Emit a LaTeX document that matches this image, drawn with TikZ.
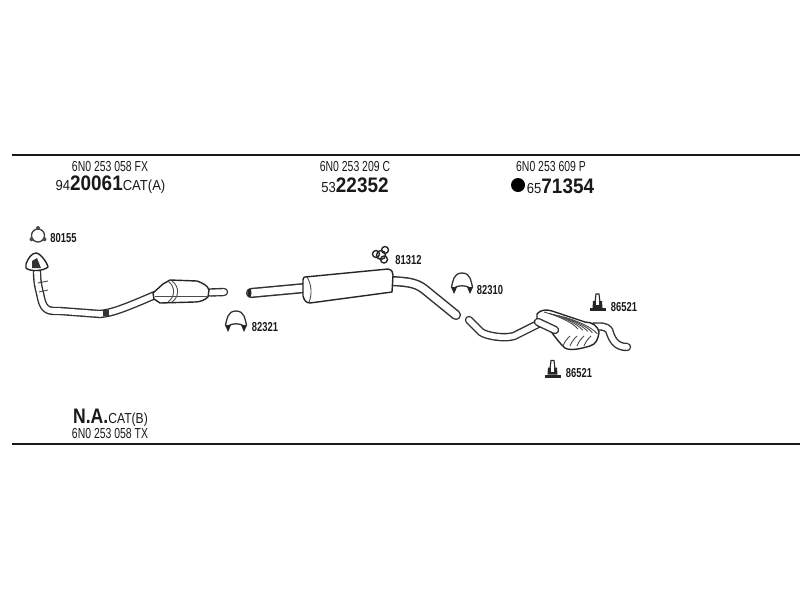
\documentclass[tikz,border=0pt]{standalone}
\usepackage{fontspec}
\setmainfont{Liberation Sans}
\newcommand{\partfont}{\fontsize{14.5}{14.5}\selectfont}
\newcommand{\bigfont}{\fontsize{21}{21}\selectfont}
\newcommand{\numfont}{\fontsize{13}{13}\selectfont\bfseries}
\tikzset{
    railline/.style={line width=1.6pt, black!90},
    partno/.style={inner sep=0pt, xscale=.72, text=black!90, font=\partfont},
    ordno/.style={inner sep=0pt, xscale=.9, text=black!90},
    smallno/.style={inner sep=0pt, xscale=.72, text=black!90, font=\numfont},
    tube/.style={line width=1.4pt, draw=black!80, double=white, double distance=5.6pt, line cap=round, line join=round},
    wide tube/.style={line width=1.5pt, draw=black!80, double=white, double distance=7.2pt, line cap=round, line join=round},
    shell/.style={draw=black!85, fill=white, line width=1.4pt, line join=round},
    rib/.style={draw=black!70, line width=.9pt},
    pics/uclamp/.style={code={
        \draw[black!80, line width=1.3pt, fill=white] (-7,7) -- (-10.5,3) .. controls (-9,-2) and (-9,-11) .. (0,-11) .. controls (9,-11) and (9,-2) .. (10.5,3) -- (7,7);
        \draw[black!80, line width=1.3pt] (-8,4) .. controls (-4,1) and (4,1) .. (8,4);
        \fill[black!85] (-11,3) -- (-5,3) -- (-8,10) -- cycle;
        \fill[black!85] (11,3) -- (5,3) -- (8,10) -- cycle;
    }},
    pics/mount/.style={code={
        \draw[black!85, line width=1.1pt, fill=white] (-2.5,-1) -- (-1.5,-9) -- (1.5,-9) -- (2.5,-1) -- cycle;
        \fill[black!85] (-4.5,-2) -- (4.5,-2) -- (5,5) -- (-5,5) -- cycle;
        \fill[black!85] (-8,5) rectangle (8,8);
        \fill[white] (-1.5,-4) rectangle (1.5,2);
    }}
}
\begin{document}
\begin{tikzpicture}[x=1pt, y=-1pt]
    \useasboundingbox (0,0) rectangle (800,600);

    \coordinate (TL) at (12,155);
    \coordinate (TR) at (800,155);
    \coordinate (BL) at (12,444);
    \coordinate (BR) at (800,444);
    \draw[railline] (TL)--(TR);
    \draw[railline] (BL)--(BR);

    % texts above the upper line
    \node[partno] (catno) at (110,167) {6N0 253 058 FX};
    \node[ordno] (catord) at (110.5,185) {\partfont 94\bigfont\bfseries 20061\partfont\mdseries CAT(A)};
    \node[partno] (midno) at (355,167) {6N0 253 209 C};
    \node[ordno] (midord) at (355,185) {\partfont 53\bigfont\bfseries 22352};
    \node[partno] (rearno) at (551,167) {6N0 253 609 P};
    \node[ordno] (rearord) at (560.5,186) {\partfont 65\bigfont\bfseries 71354};
    \fill[black] (518,185) circle (7);

    % texts below
    \node[ordno, xscale=.93] (naord) at (110.5,418) {\bigfont\bfseries N.A.\partfont\mdseries CAT(B)};
    \node[partno] (nano) at (110,434) {6N0 253 058 TX};

    % front pipe and catalyst
    \draw[tube] (37,272) .. controls (37,285) and (40,292) .. (41,298)
        .. controls (44,312) and (50,311) .. (60,311) -- (100,314)
        .. controls (112,313) and (125,308) .. (155,295);
    \draw[rib] (38,283) -- (48,281) (39,292) -- (48,290);
    \fill[black!80] (103,310) rectangle (109,316);
    \draw[shell] (26,264) .. controls (28,258) and (32,253) .. (36,253)
        .. controls (40,253) and (47,262) .. (48,267) .. controls (44,271) and (30,272) .. (26,268) -- cycle;
    \fill[black!80] (32,261) -- (37,258) -- (41,268) -- (32,268) -- cycle;
    \draw[tube] (210,292.5) -- (224,292);
    \draw[shell] (153,293) -- (163,284) -- (170,280) -- (197,281) .. controls (203,283) and (208,286) .. (209,290)
        -- (208,297) .. controls (205,300) and (200,302) .. (195,302) -- (160,303) -- (154,299) -- cycle;
    \draw[rib] (168,281) .. controls (176,287) and (175,297) .. (168,302);
    \draw[rib] (172,281) .. controls (180,287) and (179,297) .. (172,302);
    \draw[rib] (155,296) -- (207,296);

    % middle silencer
    \draw[wide tube] (251,293) -- (305,288);
    \fill[black!85] (249.5,293) ellipse (2 and 4.5);
    \draw[wide tube] (392,281) .. controls (405,282) and (415,282) .. (424,289) -- (456,315);
    \draw[shell] (305,277) -- (388,269) .. controls (392,270) and (393,272) .. (393,275) -- (392,292) -- (310,303)
        .. controls (306,303) and (304,300) .. (303,296) -- (303,280) .. controls (303,278) and (304,277) .. (305,277) -- cycle;
    \draw[rib] (307,277) .. controls (312,285) and (312,295) .. (309,302);

    % rear pipe and silencer
    \draw[tube] (469,320) -- (481,332) .. controls (486,336) and (505,339) .. (514,336) -- (540,323);
    \draw[tube] (590,327) .. controls (600,326) and (606,326) .. (609,330) .. controls (612,340) and (616,347) .. (627,347);
    \draw[shell] (537,314) .. controls (540,310) and (546,309) .. (552,311) -- (585,322) .. controls (592,322) and (598,326) .. (599,332)
        .. controls (598,340) and (596,344) .. (590,346) .. controls (580,349) and (570,351) .. (565,348)
        .. controls (558,342) and (552,332) .. (548,328) -- (537,319) -- cycle;
    \draw[tube] (538,322) -- (555,330);
    \foreach \i in {0,3,6,9,12}
        \draw[rib] (544+\i*1.6,312+\i*.4) .. controls (558+\i*1.6,316+\i*.4) and (572+\i*1.6,322+\i*.4) .. (578+\i*1.6,329+\i*.4);
    \foreach \i in {0,7,14,21}
        \draw[rib] (563+\i,346) .. controls (565+\i,341) and (567+\i,339) .. (570+\i,336);

    % small parts
    \draw[black!75, line width=1.3pt] (38,235.5) circle (6.5);
    \foreach \i in {90,210,330}
        \fill[black!70] (38,235.5)++(\i:-7.5) circle (2);
    \node[smallno] (n80155) at (63.5,238.5) {80155};

    \pic at (236,322) {uclamp};
    \node[smallno] (n82321) at (265,327) {82321};

    \draw[black!85, line width=1.4pt] (381,255) circle (4.5) (376,254) circle (3.5);
    \draw[black!85, line width=1.4pt] (385,250) circle (3.5) (384,259.5) circle (3.5);
    \node[smallno] (n81312) at (408.5,260) {81312};

    \pic at (462,284) {uclamp};
    \node[smallno] (n82310) at (490,290) {82310};

    \pic at (597.5,303) {mount};
    \node[smallno] (n86521a) at (624,307.5) {86521};
    \pic at (552.5,369.5) {mount};
    \node[smallno] (n86521b) at (579,373) {86521};
\end{tikzpicture}
\end{document}
